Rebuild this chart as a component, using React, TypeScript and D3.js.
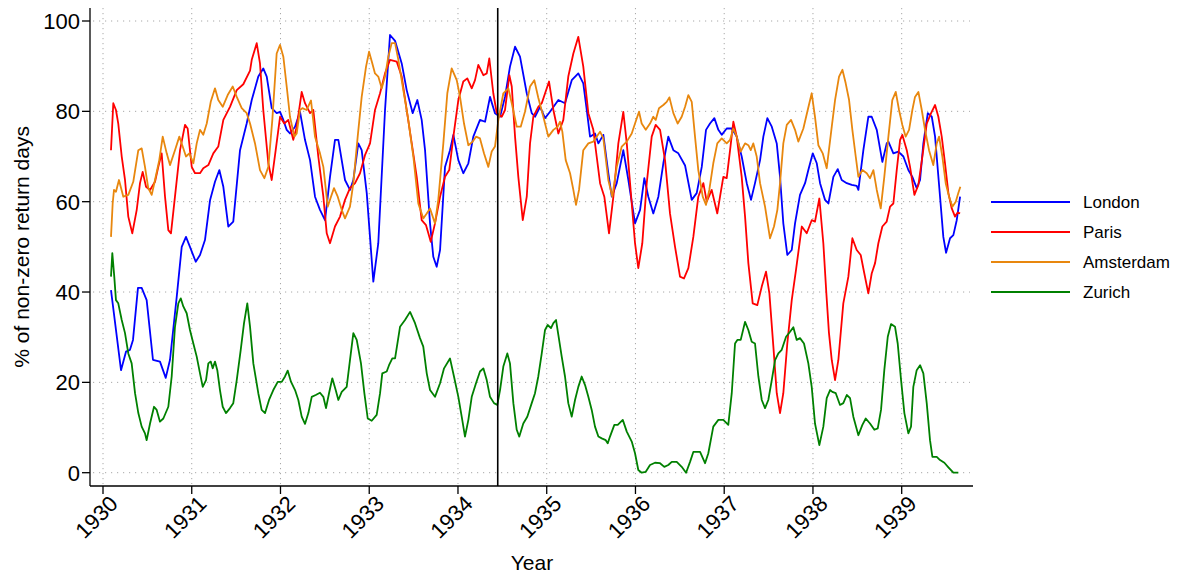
import React from 'react';
import * as d3 from 'd3';

const yearTicks = [1930, 1931, 1932, 1933, 1934, 1935, 1936, 1937, 1938, 1939];
const valueTicks = [0, 20, 40, 60, 80, 100];
const eventYear = 1934.448;

const london: [number, number][] = [[1930.090,40.4],[1930.203,22.7],[1930.259,26.8],[1930.304,27.2],[1930.338,29.4],[1930.394,40.9],[1930.436,40.9],[1930.492,38.2],[1930.563,25.0],[1930.642,24.6],[1930.707,21.0],[1930.755,25.0],[1930.831,39.0],[1930.887,50.0],[1930.935,52.2],[1930.980,50.0],[1931.045,46.7],[1931.093,48.2],[1931.149,51.5],[1931.206,60.3],[1931.262,64.4],[1931.311,67.0],[1931.356,63.3],[1931.412,54.5],[1931.468,55.6],[1931.544,71.4],[1931.619,77.3],[1931.676,82.5],[1931.750,87.7],[1931.806,89.5],[1931.845,87.7],[1931.901,80.7],[1931.957,79.6],[1931.995,79.9],[1932.032,78.1],[1932.070,75.9],[1932.107,75.1],[1932.164,76.6],[1932.220,79.9],[1932.276,73.7],[1932.333,69.2],[1932.389,61.1],[1932.445,58.2],[1932.502,55.9],[1932.558,65.5],[1932.614,73.7],[1932.652,73.7],[1932.727,64.8],[1932.783,62.6],[1932.821,64.8],[1932.877,72.9],[1932.915,71.4],[1932.972,61.9],[1933.046,42.3],[1933.102,50.8],[1933.178,80.3],[1933.234,96.9],[1933.291,95.6],[1933.366,90.6],[1933.422,84.7],[1933.490,79.6],[1933.542,82.5],[1933.591,78.1],[1933.629,71.4],[1933.685,55.2],[1933.722,47.8],[1933.760,45.6],[1933.798,49.3],[1933.854,67.7],[1933.910,71.4],[1933.948,74.8],[1934.004,69.2],[1934.060,66.3],[1934.117,68.5],[1934.173,74.4],[1934.248,78.1],[1934.305,77.7],[1934.361,83.2],[1934.417,79.6],[1934.474,78.8],[1934.530,83.2],[1934.586,89.9],[1934.643,94.3],[1934.699,92.1],[1934.775,84.0],[1934.831,79.6],[1934.868,78.8],[1934.925,81.0],[1934.981,78.5],[1935.037,79.9],[1935.131,82.5],[1935.206,81.8],[1935.282,86.9],[1935.356,88.4],[1935.412,86.2],[1935.451,80.3],[1935.488,74.4],[1935.544,75.1],[1935.582,72.9],[1935.638,74.8],[1935.694,66.3],[1935.733,61.1],[1935.789,64.1],[1935.863,71.4],[1935.920,64.8],[1935.995,55.2],[1936.052,58.2],[1936.100,65.2],[1936.145,61.1],[1936.201,57.4],[1936.258,61.1],[1936.314,68.5],[1936.370,74.4],[1936.427,71.4],[1936.483,70.7],[1936.559,68.0],[1936.634,60.4],[1936.690,61.9],[1936.747,67.7],[1936.795,75.9],[1936.840,77.3],[1936.889,78.5],[1936.934,75.9],[1936.972,74.8],[1937.028,76.2],[1937.085,76.2],[1937.141,74.4],[1937.197,70.0],[1937.254,64.1],[1937.302,60.4],[1937.347,64.1],[1937.404,69.2],[1937.441,74.4],[1937.486,78.5],[1937.536,76.6],[1937.592,72.9],[1937.629,65.5],[1937.666,55.2],[1937.711,48.2],[1937.761,49.3],[1937.798,55.2],[1937.854,61.5],[1937.911,64.1],[1937.948,67.0],[1937.998,70.7],[1938.043,68.5],[1938.080,64.1],[1938.136,60.4],[1938.174,59.6],[1938.230,65.5],[1938.279,67.2],[1938.324,64.8],[1938.381,64.1],[1938.437,63.7],[1938.493,63.5],[1938.512,62.6],[1938.568,71.4],[1938.624,78.8],[1938.662,78.8],[1938.719,75.9],[1938.782,68.8],[1938.831,72.9],[1938.850,73.3],[1938.906,70.7],[1938.962,71.1],[1939.019,70.0],[1939.075,67.0],[1939.120,65.5],[1939.169,63.0],[1939.207,64.8],[1939.244,72.9],[1939.294,79.6],[1939.339,78.8],[1939.376,74.4],[1939.432,61.1],[1939.469,52.2],[1939.500,48.7],[1939.545,51.9],[1939.582,52.6],[1939.620,55.9],[1939.658,61.1]];

const paris: [number, number][] = [[1930.090,71.4],[1930.116,81.8],[1930.146,80.3],[1930.172,77.3],[1930.211,70.0],[1930.248,64.8],[1930.285,56.7],[1930.330,53.0],[1930.380,58.2],[1930.417,64.1],[1930.447,66.6],[1930.485,63.3],[1930.530,62.6],[1930.586,64.4],[1930.623,67.7],[1930.661,70.7],[1930.699,61.1],[1930.736,53.7],[1930.766,53.0],[1930.811,61.1],[1930.868,71.4],[1930.924,77.0],[1930.954,76.2],[1931.000,67.7],[1931.037,66.3],[1931.093,66.3],[1931.130,67.4],[1931.187,68.1],[1931.243,70.7],[1931.299,72.2],[1931.356,78.1],[1931.431,81.0],[1931.507,84.7],[1931.581,86.0],[1931.657,89.0],[1931.676,91.4],[1931.732,95.1],[1931.769,90.6],[1931.806,80.3],[1931.863,68.5],[1931.901,64.8],[1931.946,71.4],[1931.995,78.8],[1932.043,77.3],[1932.088,78.1],[1932.144,73.7],[1932.183,76.6],[1932.239,84.3],[1932.276,81.8],[1932.333,79.6],[1932.370,80.3],[1932.426,70.0],[1932.483,61.1],[1932.521,53.0],[1932.558,50.8],[1932.614,54.5],[1932.671,56.7],[1932.727,60.4],[1932.783,63.0],[1932.840,64.1],[1932.896,66.3],[1932.952,70.3],[1933.009,72.9],[1933.065,80.3],[1933.122,84.0],[1933.178,88.4],[1933.234,91.4],[1933.310,91.0],[1933.366,87.7],[1933.422,80.3],[1933.479,72.9],[1933.535,65.5],[1933.591,55.9],[1933.640,54.8],[1933.666,53.0],[1933.693,51.1],[1933.741,55.2],[1933.798,61.1],[1933.854,65.5],[1933.902,67.0],[1933.948,74.4],[1934.004,82.5],[1934.060,86.6],[1934.105,87.3],[1934.155,85.1],[1934.192,86.9],[1934.229,90.3],[1934.286,88.0],[1934.324,88.4],[1934.353,91.7],[1934.398,84.0],[1934.437,79.6],[1934.493,78.8],[1934.530,80.3],[1934.579,88.0],[1934.606,85.5],[1934.643,74.4],[1934.680,65.5],[1934.730,55.9],[1934.775,61.1],[1934.812,72.9],[1934.849,78.8],[1934.905,81.0],[1934.944,81.8],[1935.026,86.6],[1935.075,80.3],[1935.131,75.1],[1935.187,78.1],[1935.243,87.7],[1935.300,92.8],[1935.356,96.5],[1935.412,89.9],[1935.469,79.6],[1935.525,75.9],[1935.563,70.0],[1935.601,64.1],[1935.649,61.1],[1935.702,53.0],[1935.751,61.1],[1935.807,72.9],[1935.863,79.9],[1935.902,72.9],[1935.958,59.6],[1935.995,50.8],[1936.032,45.3],[1936.077,50.8],[1936.127,64.1],[1936.183,74.4],[1936.228,77.0],[1936.277,75.9],[1936.333,69.2],[1936.389,57.4],[1936.446,50.0],[1936.502,43.4],[1936.547,43.0],[1936.596,45.3],[1936.652,52.2],[1936.708,61.1],[1936.765,64.1],[1936.803,60.0],[1936.859,62.6],[1936.922,57.4],[1936.953,61.1],[1936.990,65.5],[1937.028,65.2],[1937.066,71.4],[1937.103,77.7],[1937.141,74.4],[1937.197,65.5],[1937.235,56.7],[1937.272,46.4],[1937.321,37.5],[1937.373,37.1],[1937.423,41.2],[1937.471,44.5],[1937.509,39.7],[1937.554,27.9],[1937.592,17.6],[1937.629,13.2],[1937.666,17.6],[1937.711,28.6],[1937.761,38.2],[1937.809,44.9],[1937.874,54.5],[1937.930,53.0],[1937.986,55.9],[1938.023,55.6],[1938.072,60.7],[1938.117,50.8],[1938.150,40.0],[1938.180,31.0],[1938.212,24.9],[1938.249,20.5],[1938.286,24.9],[1938.342,37.5],[1938.399,43.4],[1938.444,51.9],[1938.493,49.3],[1938.538,48.2],[1938.579,44.1],[1938.624,39.7],[1938.662,44.1],[1938.700,46.4],[1938.737,50.8],[1938.782,54.5],[1938.831,55.6],[1938.869,58.9],[1938.906,59.6],[1938.944,67.0],[1938.982,73.7],[1939.007,74.8],[1939.057,71.4],[1939.094,67.7],[1939.143,61.5],[1939.188,63.7],[1939.233,70.0],[1939.282,77.3],[1939.331,79.6],[1939.376,81.4],[1939.413,78.8],[1939.451,74.4],[1939.488,68.5],[1939.526,61.9],[1939.564,58.5],[1939.601,56.7],[1939.631,57.6],[1939.658,57.4]];

const amsterdam: [number, number][] = [[1930.090,52.2],[1930.109,59.6],[1930.124,62.6],[1930.146,62.2],[1930.180,64.8],[1930.229,61.1],[1930.285,61.5],[1930.341,64.4],[1930.398,71.4],[1930.436,71.8],[1930.473,67.7],[1930.510,63.0],[1930.549,61.5],[1930.586,64.8],[1930.634,69.2],[1930.673,74.4],[1930.718,70.7],[1930.755,68.1],[1930.811,71.4],[1930.860,74.4],[1930.898,72.2],[1930.935,70.0],[1930.973,70.7],[1931.018,68.5],[1931.056,72.9],[1931.093,75.9],[1931.130,74.8],[1931.169,77.3],[1931.214,82.1],[1931.262,85.1],[1931.299,82.5],[1931.349,81.0],[1931.405,83.6],[1931.462,85.5],[1931.507,83.2],[1931.563,80.7],[1931.619,79.6],[1931.657,77.3],[1931.713,72.9],[1931.769,67.0],[1931.818,65.2],[1931.863,67.7],[1931.908,78.1],[1931.957,92.8],[1931.995,94.7],[1932.032,92.1],[1932.070,85.5],[1932.107,78.8],[1932.156,74.4],[1932.183,75.1],[1932.220,80.3],[1932.246,80.7],[1932.295,80.3],[1932.344,82.4],[1932.389,74.4],[1932.445,70.7],[1932.483,67.7],[1932.532,58.9],[1932.569,61.1],[1932.603,63.0],[1932.645,61.1],[1932.690,58.2],[1932.727,56.3],[1932.783,58.9],[1932.821,64.1],[1932.870,74.4],[1932.915,83.2],[1932.964,89.9],[1932.998,93.2],[1933.035,90.6],[1933.065,88.4],[1933.102,87.7],[1933.141,85.1],[1933.178,87.7],[1933.215,92.1],[1933.253,95.1],[1933.291,95.1],[1933.328,91.4],[1933.384,84.7],[1933.440,78.1],[1933.497,70.0],[1933.553,59.6],[1933.609,56.3],[1933.648,57.4],[1933.685,58.5],[1933.715,56.7],[1933.741,55.2],[1933.778,60.4],[1933.835,72.9],[1933.880,84.0],[1933.929,89.5],[1933.986,86.9],[1934.023,83.2],[1934.068,77.3],[1934.117,72.5],[1934.166,73.3],[1934.203,74.4],[1934.248,74.0],[1934.293,70.7],[1934.342,67.7],[1934.380,71.1],[1934.417,72.2],[1934.455,78.1],[1934.511,84.0],[1934.567,85.1],[1934.606,81.8],[1934.662,76.6],[1934.707,76.6],[1934.755,79.9],[1934.812,85.5],[1934.860,86.9],[1934.905,83.0],[1934.962,78.8],[1935.018,74.4],[1935.075,75.9],[1935.124,76.6],[1935.150,77.7],[1935.176,75.5],[1935.214,69.2],[1935.263,66.3],[1935.300,62.6],[1935.330,59.3],[1935.364,62.6],[1935.412,71.4],[1935.469,72.9],[1935.525,73.3],[1935.601,75.5],[1935.638,74.0],[1935.694,64.8],[1935.739,61.1],[1935.789,67.7],[1935.845,72.2],[1935.902,73.3],[1935.958,75.1],[1935.995,77.3],[1936.040,79.9],[1936.070,77.3],[1936.116,75.9],[1936.164,77.3],[1936.201,78.8],[1936.228,78.1],[1936.265,80.7],[1936.314,81.4],[1936.352,82.1],[1936.382,83.1],[1936.427,79.6],[1936.476,77.3],[1936.521,78.8],[1936.559,81.0],[1936.596,83.6],[1936.634,82.1],[1936.671,74.4],[1936.708,67.0],[1936.758,61.1],[1936.795,59.3],[1936.832,62.6],[1936.877,68.5],[1936.922,72.9],[1936.972,74.0],[1937.028,72.9],[1937.066,73.7],[1937.103,76.2],[1937.141,74.4],[1937.186,71.1],[1937.235,72.9],[1937.272,72.5],[1937.299,71.4],[1937.328,72.9],[1937.366,70.0],[1937.404,64.1],[1937.460,58.9],[1937.516,51.9],[1937.561,54.5],[1937.599,58.2],[1937.629,64.1],[1937.666,72.9],[1937.705,77.0],[1937.753,78.1],[1937.798,75.9],[1937.835,73.3],[1937.892,76.2],[1937.941,80.3],[1937.986,84.0],[1938.023,78.8],[1938.061,72.5],[1938.110,70.7],[1938.155,67.4],[1938.212,76.6],[1938.249,82.5],[1938.294,87.7],[1938.332,89.2],[1938.369,86.2],[1938.407,82.5],[1938.444,75.9],[1938.482,70.0],[1938.512,65.5],[1938.557,67.0],[1938.606,66.3],[1938.643,65.2],[1938.681,67.0],[1938.719,62.6],[1938.764,58.5],[1938.804,65.5],[1938.850,74.4],[1938.894,82.5],[1938.933,84.3],[1938.970,80.3],[1939.007,77.0],[1939.045,74.4],[1939.083,75.9],[1939.120,80.3],[1939.150,83.2],[1939.188,84.3],[1939.226,80.3],[1939.263,75.9],[1939.308,71.4],[1939.356,68.1],[1939.395,72.9],[1939.421,74.4],[1939.458,70.0],[1939.496,64.1],[1939.534,61.1],[1939.571,58.9],[1939.609,60.0],[1939.638,61.9],[1939.661,63.3]];

const zurich: [number, number][] = [[1930.090,43.4],[1930.105,48.6],[1930.127,43.4],[1930.146,38.2],[1930.172,37.5],[1930.211,33.8],[1930.248,30.9],[1930.285,26.4],[1930.323,24.2],[1930.361,17.6],[1930.398,13.2],[1930.436,10.2],[1930.473,8.7],[1930.492,7.2],[1930.530,10.9],[1930.575,14.6],[1930.605,13.9],[1930.642,11.3],[1930.680,12.0],[1930.736,14.6],[1930.774,21.3],[1930.811,32.3],[1930.849,37.5],[1930.876,38.6],[1930.905,36.8],[1930.943,35.3],[1930.980,31.6],[1931.018,28.6],[1931.056,25.7],[1931.093,22.0],[1931.124,19.0],[1931.161,20.5],[1931.187,24.2],[1931.214,24.6],[1931.236,23.1],[1931.262,24.6],[1931.288,22.7],[1931.318,18.3],[1931.349,14.6],[1931.386,13.2],[1931.431,14.3],[1931.468,15.4],[1931.507,20.5],[1931.552,27.2],[1931.589,33.1],[1931.626,37.5],[1931.657,32.3],[1931.694,24.2],[1931.750,17.6],[1931.788,13.9],[1931.826,13.2],[1931.871,16.1],[1931.919,18.3],[1931.969,20.1],[1932.014,20.1],[1932.051,21.3],[1932.081,22.6],[1932.119,20.1],[1932.164,18.3],[1932.201,16.1],[1932.239,12.4],[1932.276,10.8],[1932.314,13.2],[1932.352,16.8],[1932.397,17.2],[1932.445,17.7],[1932.483,16.8],[1932.513,14.3],[1932.547,17.6],[1932.584,20.9],[1932.622,18.3],[1932.652,16.1],[1932.690,17.9],[1932.746,19.0],[1932.783,24.9],[1932.821,30.9],[1932.859,29.4],[1932.907,24.2],[1932.945,17.6],[1932.983,12.0],[1933.028,11.5],[1933.084,12.8],[1933.122,17.6],[1933.147,22.0],[1933.197,22.4],[1933.223,23.8],[1933.260,25.3],[1933.291,25.3],[1933.347,32.3],[1933.403,33.8],[1933.460,35.6],[1933.516,33.1],[1933.572,29.8],[1933.609,27.9],[1933.648,22.0],[1933.685,18.3],[1933.741,16.8],[1933.798,19.8],[1933.843,23.1],[1933.910,25.3],[1933.955,21.3],[1934.004,16.8],[1934.042,12.4],[1934.079,8.0],[1934.117,11.7],[1934.155,16.8],[1934.203,19.8],[1934.248,22.4],[1934.286,23.1],[1934.324,20.5],[1934.361,16.8],[1934.406,15.4],[1934.443,15.0],[1934.474,18.3],[1934.511,23.5],[1934.556,26.4],[1934.586,24.2],[1934.624,15.4],[1934.662,9.5],[1934.691,8.0],[1934.736,10.9],[1934.781,12.4],[1934.831,15.4],[1934.868,17.6],[1934.905,21.3],[1934.944,26.4],[1934.981,31.6],[1935.011,32.7],[1935.048,32.0],[1935.075,33.1],[1935.105,33.8],[1935.131,30.5],[1935.169,25.7],[1935.206,21.3],[1935.243,15.4],[1935.282,12.4],[1935.319,16.1],[1935.356,19.0],[1935.394,21.3],[1935.432,19.4],[1935.469,16.8],[1935.507,13.9],[1935.544,10.2],[1935.582,8.0],[1935.620,7.6],[1935.665,7.2],[1935.687,6.5],[1935.713,8.0],[1935.762,10.6],[1935.800,10.6],[1935.857,11.7],[1935.902,9.1],[1935.958,6.9],[1935.995,4.3],[1936.032,0.6],[1936.070,0.0],[1936.116,0.2],[1936.164,1.7],[1936.220,2.2],[1936.277,2.1],[1936.325,1.3],[1936.370,1.7],[1936.409,2.4],[1936.465,2.4],[1936.521,1.3],[1936.570,0.0],[1936.615,2.4],[1936.652,4.6],[1936.728,4.6],[1936.784,2.1],[1936.821,4.3],[1936.877,10.2],[1936.934,11.7],[1936.990,11.7],[1937.046,10.6],[1937.085,17.6],[1937.122,28.6],[1937.148,29.4],[1937.186,29.4],[1937.235,33.4],[1937.272,31.6],[1937.310,29.0],[1937.347,28.6],[1937.385,21.3],[1937.423,16.1],[1937.460,14.3],[1937.497,16.1],[1937.536,20.5],[1937.573,24.9],[1937.610,26.4],[1937.648,27.2],[1937.697,30.1],[1937.742,31.2],[1937.779,32.2],[1937.817,29.4],[1937.854,29.8],[1937.899,28.6],[1937.948,24.2],[1937.986,19.0],[1938.023,10.9],[1938.072,6.1],[1938.117,10.2],[1938.155,16.5],[1938.193,18.3],[1938.218,17.9],[1938.257,17.6],[1938.305,15.0],[1938.342,15.4],[1938.381,17.2],[1938.418,16.5],[1938.455,12.4],[1938.512,8.3],[1938.557,10.6],[1938.595,12.0],[1938.643,10.9],[1938.692,9.5],[1938.730,9.8],[1938.767,13.9],[1938.804,22.7],[1938.843,30.1],[1938.880,32.9],[1938.925,32.3],[1938.955,28.6],[1938.993,20.5],[1939.030,13.2],[1939.075,8.7],[1939.105,10.2],[1939.131,19.0],[1939.169,22.7],[1939.207,23.8],[1939.244,22.0],[1939.282,15.4],[1939.319,7.2],[1939.346,3.5],[1939.395,3.5],[1939.432,2.8],[1939.481,2.2],[1939.526,1.2],[1939.582,0.0],[1939.638,0.0]];

const seriesNames = ['London', 'Paris', 'Amsterdam', 'Zurich'];
const seriesColors = ['#0000ff', '#ff0000', '#e8870e', '#008000'];
const seriesData = [london, paris, amsterdam, zurich];

const FONT = '"Liberation Sans", Arial, Helvetica, sans-serif';

export default function App() {
  const W = 1180, H = 577;
  const plotLeft = 90, plotRight = 973, plotTop = 8, plotBottom = 486;
  const x = d3.scaleLinear().domain([1930, 1939]).range([103, 901.7]);
  const y = d3.scaleLinear().domain([0, 100]).range([472.7, 21]);
  const line = d3.line<[number, number]>().x(d => x(d[0])).y(d => y(d[1]));

  return (
    <svg width={W} height={H} style={{ position: 'absolute', left: 0, top: 0, background: '#fff' }} fontFamily={FONT}>
      {valueTicks.map(v => (
        <line key={'hg' + v} x1={plotLeft + 3} x2={plotRight - 3} y1={y(v)} y2={y(v)} stroke="#a8a8a8" strokeWidth={1} strokeDasharray="1.2 4.8" />
      ))}
      {yearTicks.map(t => (
        <line key={'vg' + t} x1={x(t)} x2={x(t)} y1={plotTop} y2={plotBottom - 2} stroke="#a8a8a8" strokeWidth={1} strokeDasharray="1.2 3.8" />
      ))}
      {seriesData.map((d, i) => (
        <path key={seriesNames[i]} d={line(d) || ''} fill="none" stroke={seriesColors[i]} strokeWidth={1.8} strokeLinejoin="round" />
      ))}
      <line x1={x(eventYear)} x2={x(eventYear)} y1={plotTop} y2={plotBottom} stroke="#000" strokeWidth={1.6} />
      <line x1={plotLeft} x2={plotLeft} y1={plotTop} y2={plotBottom} stroke="#000" strokeWidth={1.3} />
      <line x1={plotLeft} x2={plotRight} y1={plotBottom} y2={plotBottom} stroke="#000" strokeWidth={1.3} />
      {valueTicks.map(v => (
        <g key={'yt' + v}>
          <line x1={plotLeft - 8} x2={plotLeft} y1={y(v)} y2={y(v)} stroke="#000" strokeWidth={1.3} />
          <text x={plotLeft - 10} y={y(v)} dy="0.36em" textAnchor="end" fontSize={22} fill="#000">{v}</text>
        </g>
      ))}
      {yearTicks.map(t => (
        <g key={'xt' + t}>
          <line x1={x(t)} x2={x(t)} y1={plotBottom} y2={plotBottom + 8} stroke="#000" strokeWidth={1.3} />
          <text transform={`translate(${x(t) + 5},${plotBottom + 8}) rotate(-45)`} dy="0.72em" textAnchor="end" fontSize={22} fill="#000">{t}</text>
        </g>
      ))}
      <text transform={`translate(22,${(y(0) + y(100)) / 2}) rotate(-90)`} textAnchor="middle" dy="0.35em" fontSize={21} fill="#000">% of non-zero return days</text>
      <text x={532} y={570} textAnchor="middle" fontSize={21} fill="#000">Year</text>
      {seriesNames.map((n, i) => (
        <g key={'lg' + n} transform={`translate(991,${202 + i * 30})`}>
          <line x1={0} x2={79} y1={0} y2={0} stroke={seriesColors[i]} strokeWidth={2} />
          <text x={92} y={0} dy="0.36em" fontSize={17} fill="#000">{n}</text>
        </g>
      ))}
    </svg>
  );
}
